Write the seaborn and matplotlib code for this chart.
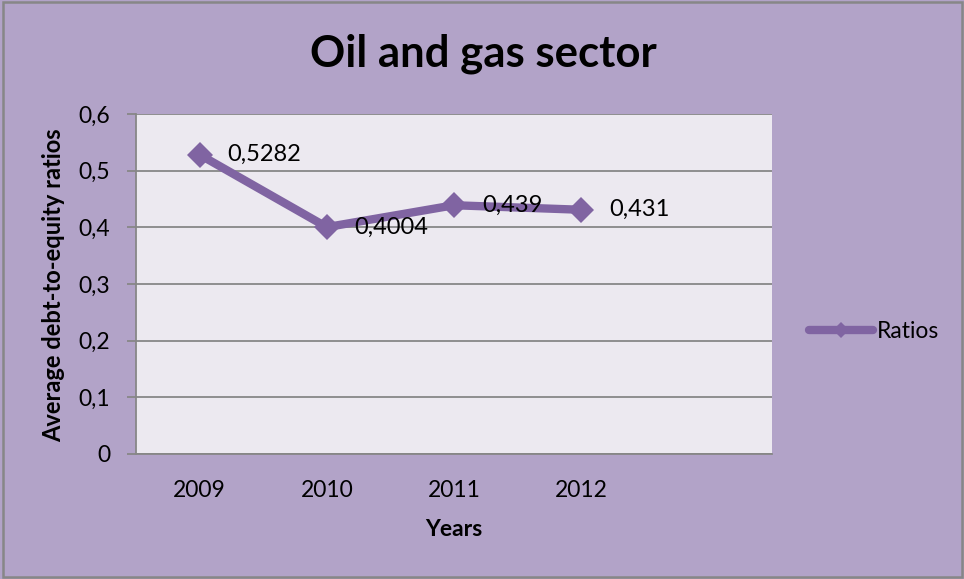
import matplotlib
matplotlib.use("Agg")
import matplotlib.pyplot as plt
from matplotlib.patches import Rectangle
import pandas as pd
import seaborn as sns

# Average debt-to-equity ratios of the oil and gas sector
years = ["2009", "2010", "2011", "2012"]
ratios = [0.5282, 0.4004, 0.439, 0.431]
value_labels = ["0,5282", "0,4004", "0,439", "0,431"]
y_ticks = [0, 0.1, 0.2, 0.3, 0.4, 0.5, 0.6]
y_tick_labels = ["0", "0,1", "0,2", "0,3", "0,4", "0,5", "0,6"]

df = pd.DataFrame({"Year": years, "Ratio": ratios})

FIG_BG = "#B2A3C8"
PLOT_BG = "#ECE9F0"
LINE = "#8064A2"
GRID = "#878787"

sns.set_theme(style="white")
plt.rcParams["font.family"] = ["Lato", "DejaVu Sans"]
plt.rcParams["text.color"] = "black"
plt.rcParams["xtick.labelcolor"] = "black"
plt.rcParams["ytick.labelcolor"] = "black"

fig = plt.figure(figsize=(9.64, 5.79), dpi=100, facecolor=FIG_BG)
ax = fig.add_axes([136 / 964, 1 - 454 / 579, (772 - 136) / 964, (454 - 114) / 579])
ax.set_facecolor(PLOT_BG)

sns.lineplot(data=df, x="Year", y="Ratio", ax=ax, color=LINE, linewidth=6,
             marker="D", markersize=13, markeredgewidth=0, label="Ratios",
             legend=False, zorder=3)

for i, (v, txt) in enumerate(zip(ratios, value_labels)):
    ax.annotate(txt, (i, v), xytext=(20, 0), textcoords="offset points",
                ha="left", va="center", fontsize=17, color="black", zorder=4)

ax.set_xlim(-0.5, 4.5)
ax.set_ylim(0, 0.6)
ax.set_yticks(y_ticks)
ax.set_yticklabels(y_tick_labels, fontsize=16.5)
ax.set_xticks(range(len(years)))
ax.set_xticklabels(years, fontsize=16.5)
ax.tick_params(axis="y", length=6.5, width=1.3, color=GRID, pad=12, left=True)
ax.tick_params(axis="x", length=0, pad=19)
ax.yaxis.grid(True, color=GRID, linewidth=1.3)
ax.set_axisbelow(True)
ax.set_xlabel("")
ax.set_ylabel("")

for side in ["top", "right"]:
    ax.spines[side].set_visible(False)
for side in ["left", "bottom"]:
    ax.spines[side].set_color(GRID)
    ax.spines[side].set_linewidth(1.3)

fig.text(483 / 964, 1 - 54 / 579, "Oil and gas sector", ha="center", va="center",
         fontsize=31.5, fontweight="bold", color="black")
fig.text(54 / 964, 1 - 285 / 579, "Average debt-to-equity ratios", rotation=90,
         ha="center", va="center", fontsize=17, fontweight="bold", color="black")
fig.text(454 / 964, 1 - 530 / 579, "Years", ha="center", va="center",
         fontsize=16.5, fontweight="bold", color="black")

handles, labels = ax.get_legend_handles_labels()
leg = fig.legend(handles, labels, loc="center left",
                 bbox_to_anchor=(800 / 964, 1 - 332 / 579), frameon=False,
                 fontsize=16.5, handlelength=2.8, handletextpad=0.15,
                 markerscale=0.65, borderaxespad=0)

fig.patches.append(Rectangle((3 / 964, 2 / 579), 959 / 964, 575 / 579,
                             transform=fig.transFigure, fill=False,
                             edgecolor=GRID, linewidth=1.8))

fig.savefig("out.png", dpi=100, facecolor=FIG_BG)
